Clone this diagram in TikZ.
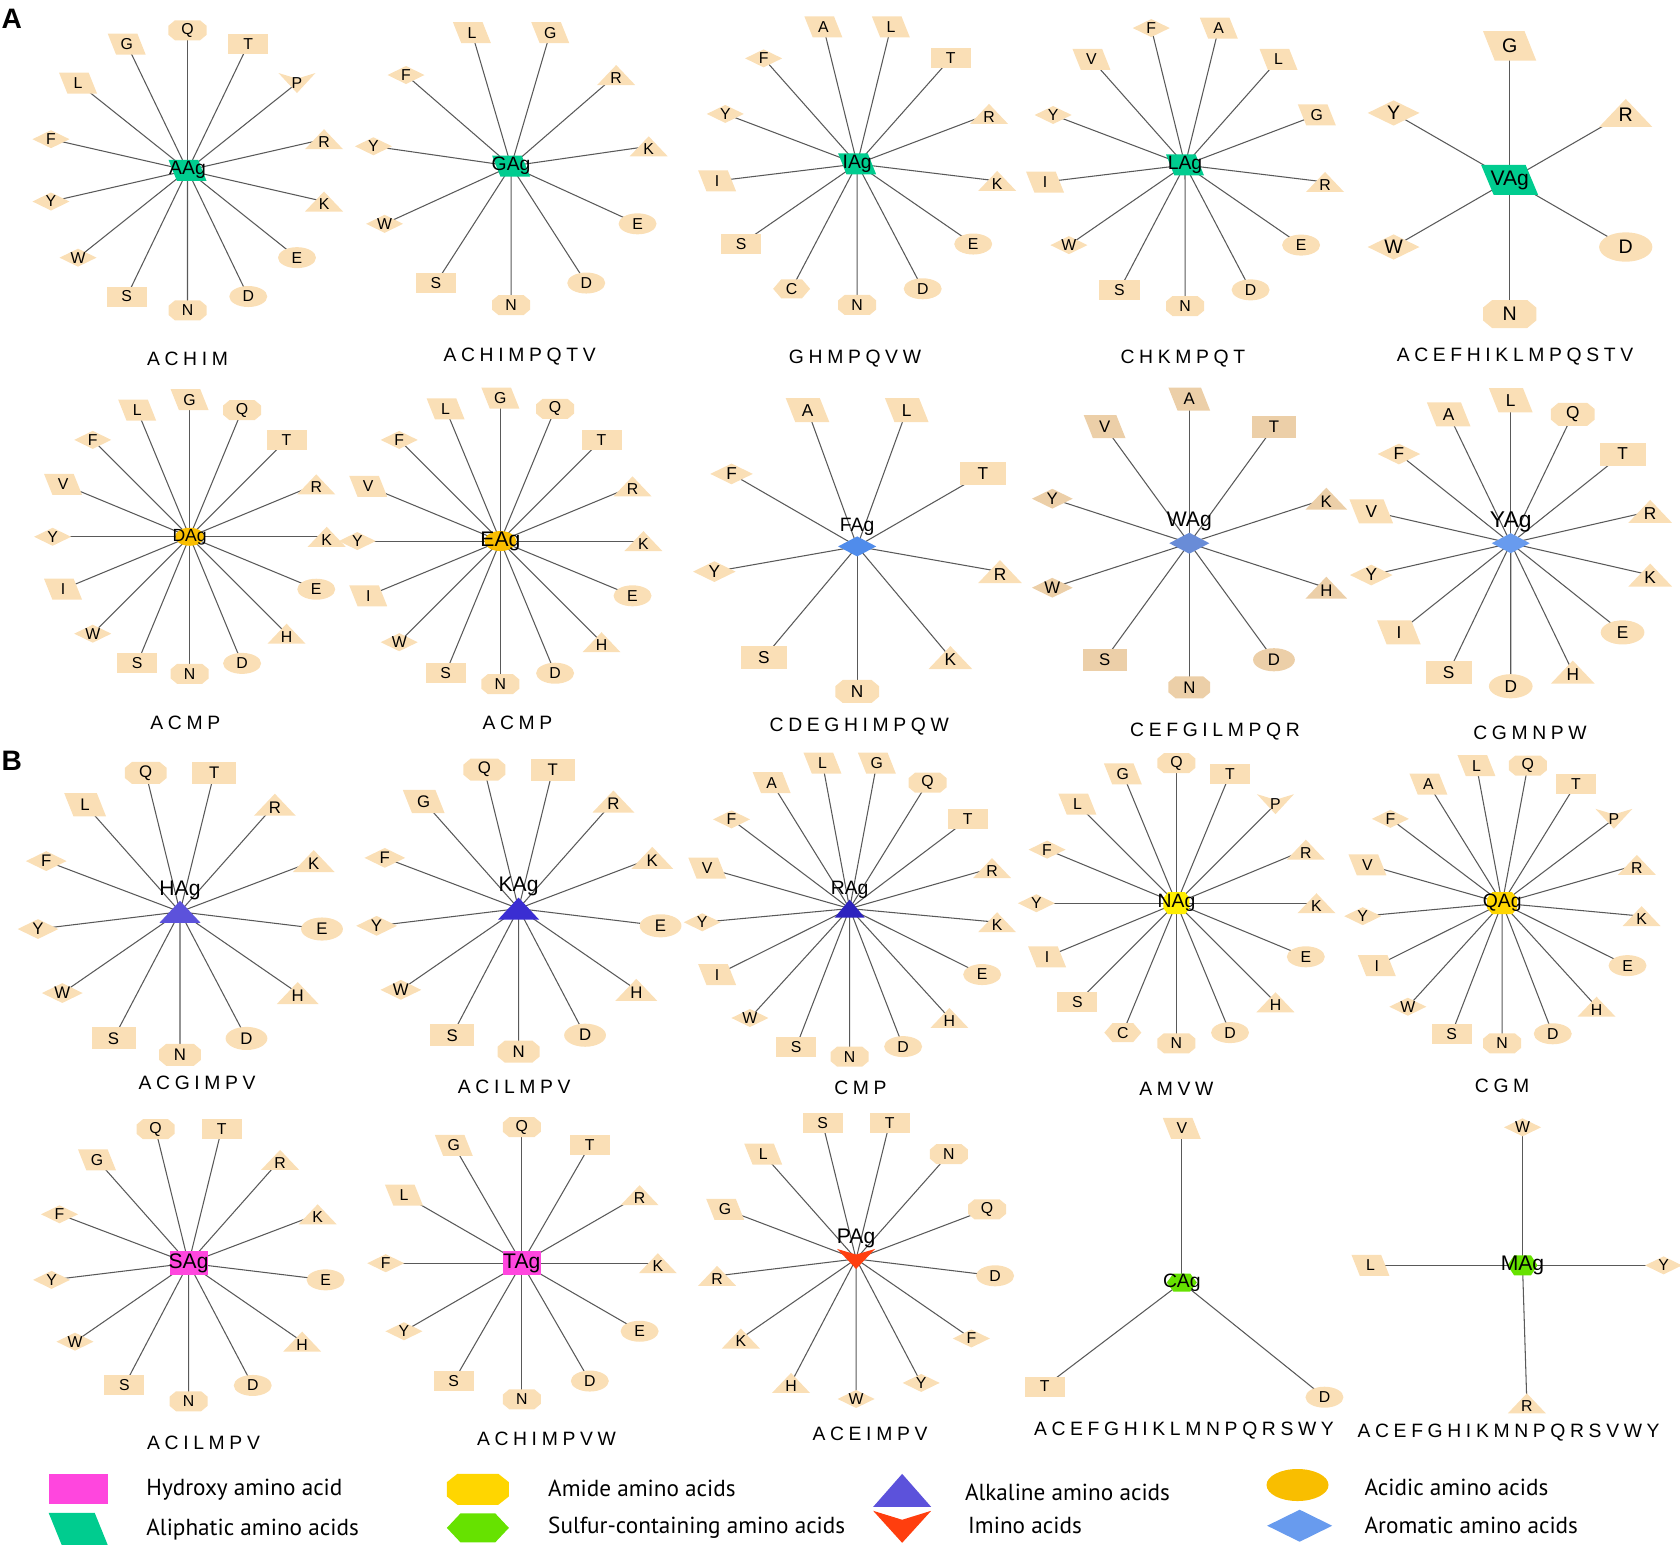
\documentclass[tikz,border=0pt]{standalone}
\usepackage{fontspec}
\setmainfont{Liberation Sans}
\newfontfamily\legfont{PT Sans}
\newfontfamily\gapfont[LetterSpace=24]{Liberation Sans}
\usetikzlibrary{calc,shapes.geometric}
\pgfdeclarelayer{bg}
\pgfsetlayers{bg,main}

\definecolor{leafbase}{RGB}{250,223,182}
\definecolor{leafdark}{RGB}{236,207,168}
\colorlet{leafc}{leafbase}
\definecolor{hydc}{RGB}{255,70,222}
\definecolor{alic}{RGB}{0,204,143}
\definecolor{amic}{RGB}{255,214,0}
\definecolor{sulc}{RGB}{102,226,0}
\definecolor{alkc}{RGB}{92,82,219}
\definecolor{imic}{RGB}{255,62,14}
\definecolor{acic}{RGB}{249,190,0}
\definecolor{aroc}{RGB}{104,155,238}
\definecolor{nagc}{RGB}{255,238,0}
\definecolor{kagc}{RGB}{58,45,210}
\definecolor{ragc}{RGB}{45,34,190}
\definecolor{fagc}{RGB}{80,140,235}
\definecolor{wagc}{RGB}{105,140,215}

\def\lf{1}
\def\lfs{4.5}

% corners of the path picture box
\newcommand\pbb{%
  \coordinate (pp-sw) at (path picture bounding box.south west);
  \coordinate (pp-se) at (path picture bounding box.south east);
  \coordinate (pp-nw) at (path picture bounding box.north west);
  \coordinate (pp-ne) at (path picture bounding box.north east);
  \coordinate (pp-n) at (path picture bounding box.north);
  \coordinate (pp-s) at (path picture bounding box.south);
  \coordinate (pp-w) at (path picture bounding box.west);
  \coordinate (pp-e) at (path picture bounding box.east);}

\tikzset{
  rect/.style={rectangle, fill=#1},
  ell/.style={ellipse, fill=#1},
  para/.style={rectangle, path picture={\pbb
    \fill[#1] (pp-nw) -- ($(pp-ne)!0.22!(pp-nw)$) -- (pp-se) -- ($(pp-sw)!0.22!(pp-se)$) -- cycle;}},
  octa/.style={rectangle, path picture={\pbb
    \fill[#1] ($(pp-sw)!0.27!(pp-nw)$) -- ($(pp-nw)!0.27!(pp-sw)$) -- ($(pp-nw)!0.17!(pp-ne)$)
      -- ($(pp-ne)!0.17!(pp-nw)$) -- ($(pp-ne)!0.27!(pp-se)$) -- ($(pp-se)!0.27!(pp-ne)$)
      -- ($(pp-se)!0.17!(pp-sw)$) -- ($(pp-sw)!0.17!(pp-se)$) -- cycle;}},
  hexa/.style={rectangle, path picture={\pbb
    \fill[#1] (pp-w) -- ($(pp-nw)!0.22!(pp-ne)$) -- ($(pp-ne)!0.22!(pp-nw)$) -- (pp-e)
      -- ($(pp-se)!0.22!(pp-sw)$) -- ($(pp-sw)!0.22!(pp-se)$) -- cycle;}},
  tri/.style={rectangle, path picture={\pbb
    \fill[#1] (pp-sw) -- (pp-n) -- (pp-se) -- cycle;}},
  chev/.style={rectangle, path picture={\pbb
    \fill[#1] (pp-nw) -- ($(pp-n)!0.28!(pp-s)$) -- (pp-ne) -- (pp-s) -- cycle;}},
  dia/.style={rectangle, path picture={\pbb
    \fill[#1] (pp-w) -- (pp-n) -- (pp-e) -- (pp-s) -- cycle;}},
  leaf/.style={inner sep=0pt, font=\fontsize{\lfs pt}{\lfs pt}\selectfont},
  hyd leaf/.style={rect=leafc, minimum width=\lf*0.40cm, minimum height=\lf*0.20cm},
  ali leaf/.style={para=leafc, minimum width=\lf*0.38cm, minimum height=\lf*0.21cm},
  ami leaf/.style={octa=leafc, minimum width=\lf*0.38cm, minimum height=\lf*0.20cm},
  sul leaf/.style={hexa=leafc, minimum width=\lf*0.37cm, minimum height=\lf*0.19cm},
  alk leaf/.style={tri=leafc, minimum width=\lf*0.38cm, minimum height=\lf*0.20cm, text height=4.8pt, text depth=0pt},
  imi leaf/.style={chev=leafc, minimum width=\lf*0.37cm, minimum height=\lf*0.20cm},
  aci leaf/.style={ell=leafc, minimum width=\lf*0.38cm, minimum height=\lf*0.21cm},
  aro leaf/.style={dia=leafc, minimum width=\lf*0.37cm, minimum height=\lf*0.18cm},
  aa S/.style={hyd leaf}, aa T/.style={hyd leaf},
  aa A/.style={ali leaf}, aa G/.style={ali leaf}, aa I/.style={ali leaf},
  aa L/.style={ali leaf}, aa V/.style={ali leaf},
  aa N/.style={ami leaf}, aa Q/.style={ami leaf},
  aa C/.style={sul leaf}, aa M/.style={sul leaf},
  aa H/.style={alk leaf}, aa K/.style={alk leaf}, aa R/.style={alk leaf},
  aa P/.style={imi leaf},
  aa D/.style={aci leaf}, aa E/.style={aci leaf},
  aa F/.style={aro leaf}, aa W/.style={aro leaf}, aa Y/.style={aro leaf},
  hub/.style={inner sep=0pt},
  hubt/.style={inner sep=0pt, font=\fontsize{5.5}{5.5}\selectfont},
  bighubt/.style={inner sep=0pt, font=\fontsize{6}{6}\selectfont},
  spoke/.style={draw=black!65, line width=0.3pt},
  gap/.style={inner sep=0pt, font=\gapfont\fontsize{5.5}{5.5}\selectfont},
  legt/.style={inner sep=0pt, anchor=west, font=\legfont\fontsize{6.6}{6.6}\selectfont},
  panel/.style={inner sep=0pt, font=\bfseries\fontsize{8}{8}\selectfont},
}

% star of residues round a hub: [size] hub, radius, first angle, step, residues
\newcommand\agstar[6][1]{%
  \def\lf{#1}%
  \pgfmathsetmacro\lfs{4.5*(1+0.6*(#1-1))}%
  \foreach \res [count=\k from 0] in {#6}
    \node[leaf, aa \res] (#2\res) at ($(#2)+({#4-\k*#5}:#3)$) {\res};
  \begin{pgfonlayer}{bg}
    \foreach \res in {#6} \draw[spoke] (#2.center) -- (#2\res.center);
  \end{pgfonlayer}
}
% hub with residues at given angle/radius
\newcommand\agfree[2]{%
  \def\lf{1}\def\lfs{4.5}%
  \foreach \res/\ang/\rad in {#2}
    \node[leaf, aa \res] (#1\res) at ($(#1)+(\ang:\rad)$) {\res};
  \begin{pgfonlayer}{bg}
    \foreach \res/\ang/\rad in {#2} \draw[spoke] (#1.center) -- (#1\res.center);
  \end{pgfonlayer}
}

\begin{document}
\begin{tikzpicture}[x=0.0107143cm, y=-0.0107143cm]
\useasboundingbox (0,0) rectangle (1568,1449);

\node[panel] (pA) at (11,18) {A};
\node[panel] (pB) at (11,710) {B};

%%% row 1
\node[hub, para=alic, minimum width=0.38cm, minimum height=0.21cm, label={[hubt]center:AAg}] (AAg) at (175,159) {};
\agstar{AAg}{1.40cm}{90}{25.714}{Q,T,P,R,K,E,D,N,S,W,Y,F,L,G}
\node[gap] (AAg-miss) at (175,335) {ACHIM};

\node[hub, para=alic, minimum width=0.38cm, minimum height=0.21cm, label={[hubt]center:GAg}] (GAg) at (477,155) {};
\agstar{GAg}{1.39cm}{106.36}{32.727}{L,G,R,K,E,D,N,S,W,Y,F}
\node[gap] (GAg-miss) at (485,333) {ACHIMPQTV};

\node[hub, para=alic, minimum width=0.38cm, minimum height=0.21cm, label={[hubt]center:IAg}] (IAg) at (800,153) {};
\agstar{IAg}{1.41cm}{103.85}{27.692}{A,L,T,R,K,E,D,N,C,S,I,Y,F}
\node[gap] (IAg-miss) at (798,335) {GHMPQVW};

\node[hub, para=alic, minimum width=0.38cm, minimum height=0.21cm, label={[hubt]center:LAg}] (LAg) at (1106,154) {};
\agstar{LAg}{1.41cm}{103.85}{27.692}{F,A,L,G,R,E,D,N,S,W,I,Y,V}
\node[gap] (LAg-miss) at (1104,335) {CHKMPQT};

\node[hub, para=alic, minimum width=0.57cm, minimum height=0.30cm, label={[bighubt]center:VAg}] (VAg) at (1409,168) {};
\agstar[1.4]{VAg}{1.34cm}{90}{60}{G,R,D,N,W,Y}
\node[gap] (VAg-miss) at (1414,333) {ACEFHIKLMPQSTV};

%%% row 2
\node[hub, ell=acic, minimum width=0.29cm, minimum height=0.18cm, label={[hubt, font=\fontsize{5}{5}\selectfont]center:DAg}] (DAg) at (177,501) {};
\agstar{DAg}{1.37cm}{90}{22.5}{G,Q,T,R,K,E,H,D,N,S,W,I,Y,V,F,L}
\node[gap] (DAg-miss) at (173,675) {ACMP};

\node[hub, ell=acic, minimum width=0.32cm, minimum height=0.20cm, label={[bighubt]center:EAg}] (EAg) at (467,505) {};
\agstar{EAg}{1.43cm}{90}{22.5}{G,Q,T,R,K,E,H,D,N,S,W,I,Y,V,F,L}
\node[gap] (EAg-miss) at (483,675) {ACMP};

\node[hub, dia=fagc, minimum width=0.38cm, minimum height=0.20cm, label={[hubt]above:FAg}] (FAg) at (800,510) {};
\agstar[1.15]{FAg}{1.45cm}{110}{40}{A,L,T,R,K,N,S,Y,F}
\node[gap] (FAg-miss) at (802,678) {CDEGHIMPQW};

\begin{scope}
\colorlet{leafc}{leafdark}
\node[hub, dia=wagc, minimum width=0.40cm, minimum height=0.21cm, label={[bighubt]above:WAg}] (WAg) at (1110,507) {};
\agstar[1.1]{WAg}{1.44cm}{90}{36}{A,T,K,H,D,N,S,W,Y,V}
\end{scope}
\node[gap] (WAg-miss) at (1134,683) {CEFGILMPQR};

\node[hub, dia=aroc, minimum width=0.38cm, minimum height=0.20cm, label={[hubt, font=\fontsize{6.5}{6.5}\selectfont]above:YAg}] (YAg) at (1410,507) {};
\agstar[1.15]{YAg}{1.43cm}{90}{25.714}{L,Q,T,R,K,E,H,D,S,I,Y,V,F,A}
\node[gap] (YAg-miss) at (1428,684) {CGMNPW};

%%% row 3
\node[hub, tri=alkc, minimum width=0.41cm, minimum height=0.22cm, label={[bighubt]above:HAg}] (HAg) at (168,851) {};
\agstar[1.1]{HAg}{1.43cm}{103.85}{27.692}{Q,T,R,K,E,H,D,N,S,W,Y,F,L}
\node[gap] (HAg-miss) at (184,1011) {ACGIMPV};

\node[hub, tri=kagc, minimum width=0.41cm, minimum height=0.22cm, label={[bighubt]above:KAg}] (KAg) at (484,848) {};
\agstar[1.1]{KAg}{1.43cm}{103.85}{27.692}{Q,T,R,K,E,H,D,N,S,W,Y,F,G}
\node[gap] (KAg-miss) at (480,1014) {ACILMPV};

\node[hub, tri=ragc, minimum width=0.30cm, minimum height=0.18cm, label={[hubt]above:RAg}] (RAg) at (793,848) {};
\agstar{RAg}{1.48cm}{100.59}{21.176}{L,G,Q,T,R,K,E,H,D,N,S,W,I,Y,V,F,A}
\node[gap] (RAg-miss) at (803,1015) {CMP};

\node[hub, octa=nagc, minimum width=0.26cm, minimum height=0.22cm, label={[hubt]center:NAg}] (NAg) at (1098,843) {};
\agstar{NAg}{1.40cm}{90}{22.5}{Q,T,P,R,K,E,H,D,N,C,S,I,Y,F,L,G}
\node[gap] (NAg-miss) at (1098,1016) {AMVW};

\node[hub, octa=amic, minimum width=0.30cm, minimum height=0.22cm, label={[hubt]center:QAg}] (QAg) at (1402,843) {};
\agstar{QAg}{1.40cm}{100.59}{21.176}{L,Q,T,P,R,K,E,H,D,N,S,W,I,Y,V,F,A}
\node[gap] (QAg-miss) at (1402,1013) {CGM};

%%% row 4
\node[hub, rect=hydc, minimum width=0.38cm, minimum height=0.24cm, label={[bighubt]center:SAg}] (SAg) at (176,1179) {};
\agstar{SAg}{1.38cm}{103.85}{27.692}{Q,T,R,K,E,H,D,N,S,W,Y,F,G}
\node[gap] (SAg-miss) at (190,1347) {ACILMPV};

\node[hub, rect=hydc, minimum width=0.38cm, minimum height=0.24cm, label={[bighubt]center:TAg}] (TAg) at (487,1179) {};
\agstar{TAg}{1.36cm}{90}{30}{Q,T,R,K,E,D,N,S,Y,F,L,G}
\node[gap] (TAg-miss) at (510,1343) {ACHIMPVW};

\node[hub, chev=imic, minimum width=0.38cm, minimum height=0.20cm, label={[bighubt]above:PAg}] (PAg) at (799,1175) {};
\agstar{PAg}{1.40cm}{103.85}{27.692}{S,T,N,Q,D,F,Y,W,H,K,R,G,L}
\node[gap] (PAg-miss) at (812,1338) {ACEIMPV};

\node[hub, hexa=sulc, minimum width=0.30cm, minimum height=0.18cm, label={[hubt]center:CAg}] (CAg) at (1103,1197) {};
\agfree{CAg}{V/90/1.54cm, T/-142.8/1.72cm, D/-38.8/1.83cm}
\node[gap] (CAg-miss) at (1105,1335) {ACEFGHIKLMNPQRSWY};

\node[hub, hexa=sulc, minimum width=0.30cm, minimum height=0.20cm, label={[bighubt]center:MAg}] (MAg) at (1421,1181) {};
\agfree{MAg}{W/90/1.38cm, L/180/1.52cm, Y/0/1.41cm, R/-88.2/1.38cm}
\node[gap] (MAg-miss) at (1408,1337) {ACEFGHIKMNPQRSVWY};

%%% legend
\node[hub, rect=hydc, minimum width=0.59cm, minimum height=0.30cm] (k-hyd) at (73,1390) {};
\node[legt] (t-hyd) at (136,1390) {Hydroxy amino acid};
\node[hub, para=alic, minimum width=0.59cm, minimum height=0.32cm] (k-ali) at (73,1427) {};
\node[legt] (t-ali) at (136,1428) {Aliphatic amino acids};
\node[hub, octa=amic, minimum width=0.62cm, minimum height=0.31cm] (k-ami) at (446,1390) {};
\node[legt] (t-ami) at (511,1389) {Amide amino acids};
\node[hub, hexa=sulc, minimum width=0.62cm, minimum height=0.29cm] (k-sul) at (446,1426) {};
\node[legt] (t-sul) at (511,1426) {Sulfur-containing amino acids};
\node[hub, tri=alkc, minimum width=0.58cm, minimum height=0.33cm] (k-alk) at (842,1391) {};
\node[legt] (t-alk) at (900,1393) {Alkaline amino acids};
\node[hub, chev=imic, minimum width=0.58cm, minimum height=0.32cm] (k-imi) at (842,1425) {};
\node[legt] (t-imi) at (903,1424) {Imino acids};
\node[hub, ell=acic, minimum width=0.62cm, minimum height=0.32cm] (k-aci) at (1211,1386) {};
\node[legt] (t-aci) at (1273,1388) {Acidic amino acids};
\node[hub, dia=aroc, minimum width=0.65cm, minimum height=0.32cm] (k-aro) at (1213,1424) {};
\node[legt] (t-aro) at (1273,1424) {Aromatic amino acids};
\end{tikzpicture}
\end{document}
